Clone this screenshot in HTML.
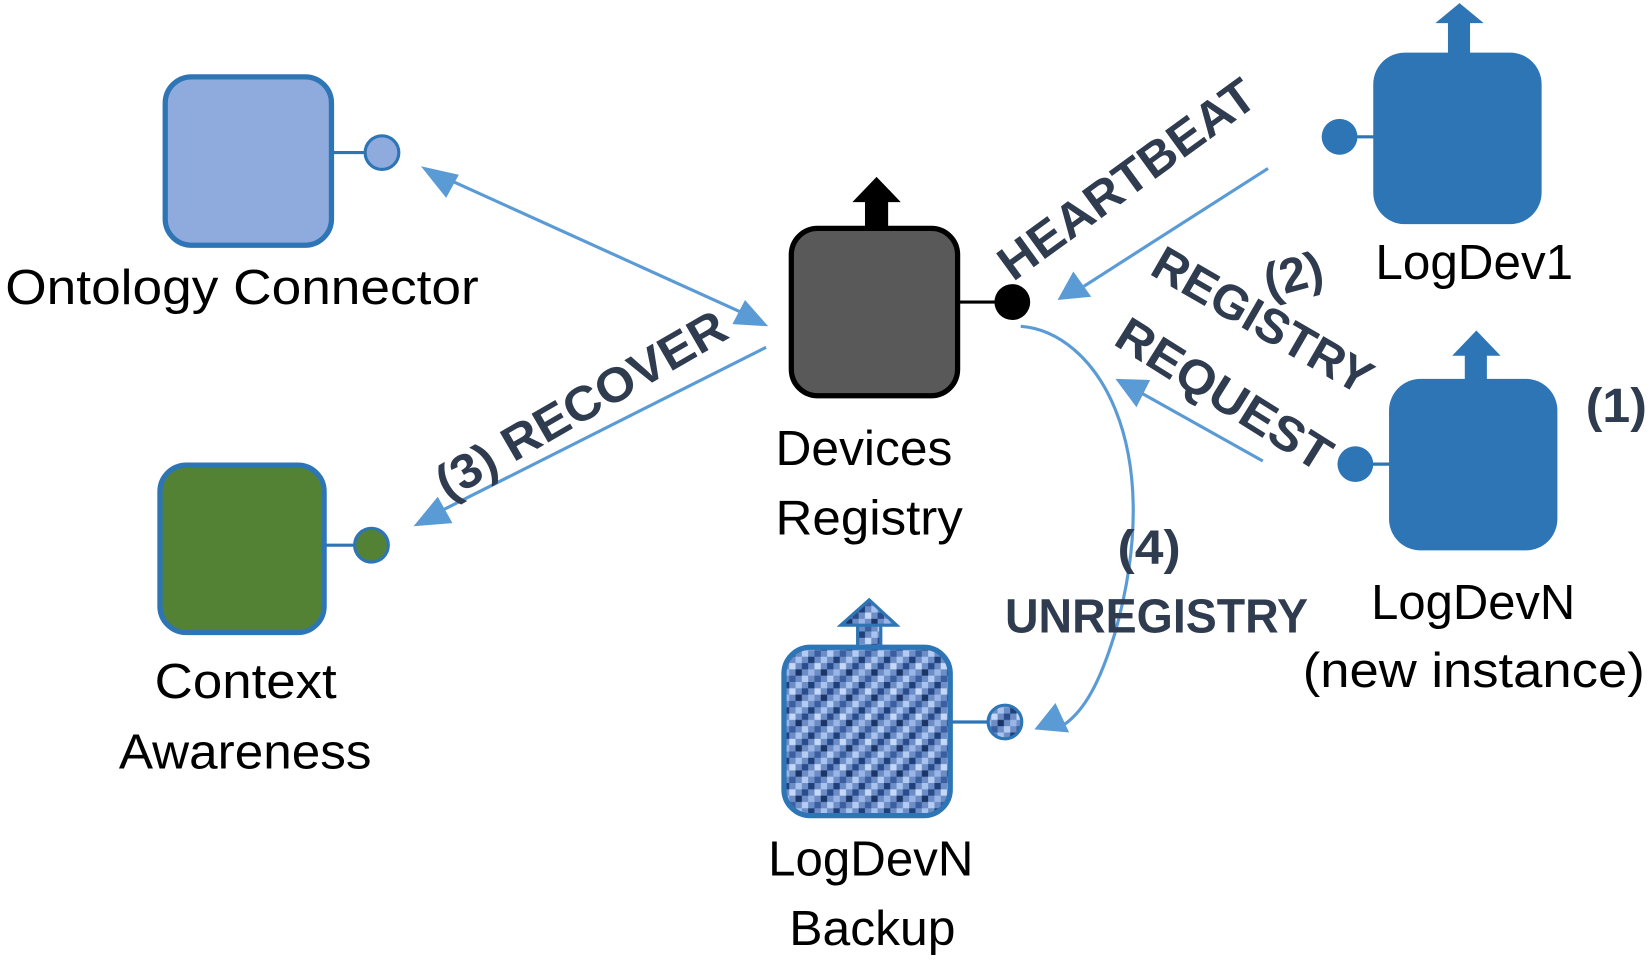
<!DOCTYPE html>
<html><head><meta charset="utf-8"><style>
html,body{margin:0;padding:0;background:#fff;width:1650px;height:963px;overflow:hidden}
svg{display:block}
text{font-family:"Liberation Sans",sans-serif}
.lbl{font-size:47px;fill:#000}
.b{font-weight:bold;fill:#2f3b4f;font-size:46px}
</style></head><body>
<svg width="1650" height="963" viewBox="0 0 1568 915" preserveAspectRatio="none" xmlns="http://www.w3.org/2000/svg">
<defs>
<pattern id="pix" width="24" height="24" patternUnits="userSpaceOnUse">
<rect width="24" height="24" fill="#6c8dc6"/>
<rect x="0" y="0" width="6" height="6" fill="#1f3f7a"/>
<rect x="12" y="0" width="6" height="6" fill="#a9c3ef"/>
<rect x="6" y="6" width="6" height="6" fill="#c5d8f7"/>
<rect x="18" y="6" width="6" height="6" fill="#2a4c8c"/>
<rect x="0" y="12" width="6" height="6" fill="#9bb6e6"/>
<rect x="12" y="12" width="6" height="6" fill="#1b3566"/>
<rect x="6" y="18" width="6" height="6" fill="#3a5ea0"/>
<rect x="18" y="18" width="6" height="6" fill="#b5ccf2"/>
</pattern>
</defs>
<g stroke="#5b9bd5" stroke-width="3" fill="none">
<line x1="425" y1="170" x2="705" y2="297"/>
<line x1="728" y1="330" x2="420" y2="485"/>
<line x1="1205" y1="160" x2="1030" y2="272"/>
<line x1="1200" y1="438" x2="1082" y2="372"/>
<path d="M970 310 C1040 315 1110 420 1060 600 C1045 650 1030 675 1012 688"/>
</g>
<g fill="#5b9bd5">
<polygon points="400,158 436,166 424,188"/>
<polygon points="730,310 696,308 708,285"/>
<polygon points="393,500 416,472 430,497"/>
<polygon points="1005,285 1020,258 1037,282"/>
<polygon points="1060,360 1093,361 1080,387"/>
<polygon points="983,693 1003,668 1016,696"/>
</g>
<line x1="315" y1="145" x2="347" y2="145" stroke="#2e75b6" stroke-width="3"/>
<circle cx="363" cy="145" r="16" fill="#8faadc" stroke="#2e75b6" stroke-width="3"/>
<rect x="157" y="73" width="158" height="160" rx="25" fill="#8faadc" stroke="#2e75b6" stroke-width="5"/>
<text class="lbl" x="5" y="289" textLength="450" lengthAdjust="spacingAndGlyphs">Ontology Connector</text>
<line x1="308" y1="518" x2="337" y2="518" stroke="#2e75b6" stroke-width="3"/>
<circle cx="353" cy="518" r="16" fill="#548235" stroke="#2e75b6" stroke-width="3"/>
<rect x="152" y="442" width="156" height="159" rx="25" fill="#548235" stroke="#2e75b6" stroke-width="5"/>
<text class="lbl" x="147" y="663" textLength="173" lengthAdjust="spacingAndGlyphs">Context</text>
<text class="lbl" x="113" y="730" textLength="240" lengthAdjust="spacingAndGlyphs">Awareness</text>
<rect x="822" y="190" width="22" height="30" fill="#000"/>
<polygon points="810,192 856,192 833,168" fill="#000"/>
<line x1="910" y1="287" x2="946" y2="287" stroke="#000" stroke-width="3"/>
<circle cx="962" cy="287" r="17" fill="#000"/>
<rect x="752" y="217" width="158" height="159" rx="25" fill="#595959" stroke="#000" stroke-width="5"/>
<text class="lbl" x="737" y="442" textLength="168" lengthAdjust="spacingAndGlyphs">Devices</text>
<text class="lbl" x="737" y="508" textLength="178" lengthAdjust="spacingAndGlyphs">Registry</text>
<rect x="1376" y="20" width="21" height="35" fill="#2e75b6"/>
<polygon points="1364,22 1410,22 1387,3" fill="#2e75b6"/>
<line x1="1275" y1="130" x2="1310" y2="130" stroke="#2e75b6" stroke-width="3"/>
<circle cx="1273" cy="130" r="17" fill="#2e75b6"/>
<rect x="1305" y="50" width="160" height="163" rx="30" fill="#2e75b6"/>
<text class="lbl" x="1307" y="265" textLength="188" lengthAdjust="spacingAndGlyphs">LogDev1</text>
<rect x="1392" y="334" width="21" height="30" fill="#2e75b6"/>
<polygon points="1380,338 1426,338 1403,314" fill="#2e75b6"/>
<line x1="1290" y1="441" x2="1325" y2="441" stroke="#2e75b6" stroke-width="3"/>
<circle cx="1288" cy="441" r="17" fill="#2e75b6"/>
<rect x="1320" y="360" width="160" height="163" rx="30" fill="#2e75b6"/>
<text class="lbl" x="1303" y="588" textLength="194" lengthAdjust="spacingAndGlyphs">LogDevN</text>
<text class="lbl" x="1238" y="653" textLength="325" lengthAdjust="spacingAndGlyphs">(new instance)</text>
<text class="b" x="1507" y="401" textLength="58" lengthAdjust="spacingAndGlyphs">(1)</text>
<rect x="815" y="592" width="22" height="26" fill="url(#pix)" stroke="#2e75b6" stroke-width="3"/>
<polygon points="799,594 852,594 826,570" fill="url(#pix)" stroke="#2e75b6" stroke-width="3"/>
<line x1="903" y1="686" x2="939" y2="686" stroke="#2e75b6" stroke-width="3"/>
<circle cx="955" cy="686" r="16" fill="url(#pix)" stroke="#2e75b6" stroke-width="3"/>
<rect x="745" y="615" width="158" height="160" rx="25" fill="url(#pix)" stroke="#2e75b6" stroke-width="5"/>
<text class="lbl" x="730" y="832" textLength="195" lengthAdjust="spacingAndGlyphs">LogDevN</text>
<text class="lbl" x="750" y="898" textLength="158" lengthAdjust="spacingAndGlyphs">Backup</text>
<text class="b" transform="translate(1080,183) rotate(-36)" text-anchor="middle" textLength="290" lengthAdjust="spacingAndGlyphs">HEARTBEAT</text>
<text class="b" transform="translate(1233,276) rotate(-15)" text-anchor="middle" font-size="44">(2)</text>
<text class="b" transform="translate(1192,318) rotate(30)" text-anchor="middle" textLength="233" lengthAdjust="spacingAndGlyphs">REGISTRY</text>
<text class="b" transform="translate(1155,388) rotate(32)" text-anchor="middle" textLength="232" lengthAdjust="spacingAndGlyphs">REQUEST</text>
<text class="b" transform="translate(560,398) rotate(-30)" text-anchor="middle" textLength="311" lengthAdjust="spacingAndGlyphs">(3) RECOVER</text>
<text class="b" x="1062" y="536" textLength="60" lengthAdjust="spacingAndGlyphs">(4)</text>
<text class="b" x="955" y="601" textLength="288" lengthAdjust="spacingAndGlyphs">UNREGISTRY</text>
</svg>
</body></html>
